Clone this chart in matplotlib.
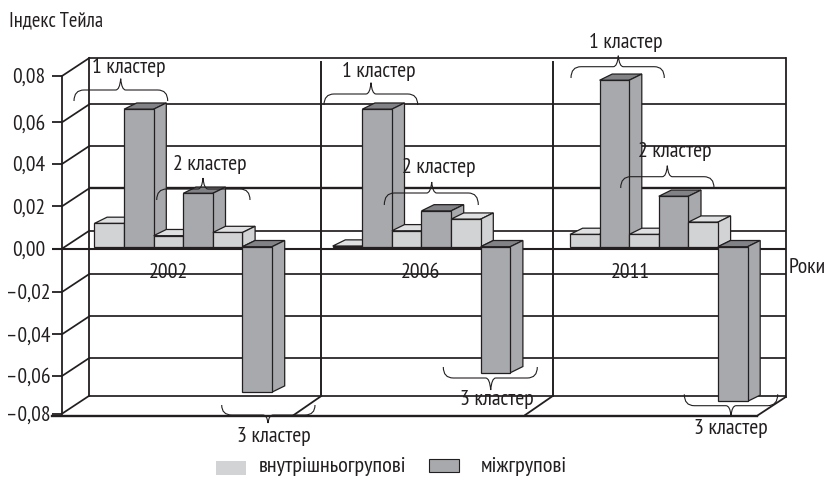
import numpy as np
import matplotlib
matplotlib.use("Agg")
import matplotlib.pyplot as plt
from matplotlib.patches import Polygon, PathPatch, Rectangle
from matplotlib.path import Path
from matplotlib.transforms import Affine2D, IdentityTransform

plt.rcParams['font.family'] = ['PT Sans Narrow', 'Roboto Condensed', 'Liberation Sans', 'DejaVu Sans']

# values
years = ["2002", "2006", "2011"]
within_group = [[0.0110, 0.0052, 0.0067],
                [0.0003, 0.0075, 0.0130],
                [0.0058, 0.0058, 0.0116]]
between_group = [[0.0648, 0.0252, -0.0696],
                 [0.0648, 0.0169, -0.0594],
                 [0.0773, 0.0238, -0.0745]]
tick_values = [0.08, 0.06, 0.04, 0.02, 0.0, -0.02, -0.04, -0.06, -0.08]
tick_labels = ["0,08", "0,06", "0,04", "0,02", "0,00", "–0,02", "–0,04", "–0,06", "–0,08"]
series_names = ["внутрішньогрупові", "міжгрупові"]
cluster_names = ["1 кластер", "2 кластер", "3 кластер"]

INK = "#231f20"
LIGHT = "#d1d3d4"
LIGHT_TOP = "#dfe0e1"
DARK = "#a7a9ac"
DARK_TOP = "#808285"

W, H = 828, 478
fig = plt.figure(figsize=(W / 100, H / 100), dpi=100)
ax = fig.add_axes([0, 0, 1, 1])

# the drawn axis is not quite even, so the scale follows the printed tick positions
scale_v = np.array([-0.114, -0.08, -0.06, -0.04, -0.02, 0.0, 0.02, 0.04, 0.06, 0.08, 0.113])
scale_px = np.array([478, 413.7, 376, 334.3, 292, 248.7, 206.3, 164, 122.3, 76, 0.0])


def forward(v):
    return np.interp(v, scale_v, -scale_px)


def inverse(p):
    return np.interp(p, -scale_px, scale_v)


ax.set_yscale("function", functions=(forward, inverse))
ax.set_xlim(0, W)
ax.set_ylim(-0.114, 0.113)
ax.axis("off")

# pixel coordinates for notes and braces
px = Affine2D().scale(1, -1).translate(0, H)

LEFT, RIGHT = 62, 785.7
BACK_X, BACK_Y = 27.3, 18
back = ax.transData + Affine2D().translate(0, BACK_Y)

# walls
for v in tick_values:
    ax.plot([LEFT - 10, LEFT], [v, v], color=INK, lw=1.3, zorder=1, solid_capstyle="butt")
    ax.plot([LEFT + BACK_X, RIGHT], [v, v], color=INK, lw=1.7 if v == 0.02 else 1.25,
            transform=back, zorder=1, solid_capstyle="butt")
    y0 = ax.transData.transform((0, v))[1]
    ax.plot([LEFT, LEFT + BACK_X], [H - y0, H - y0 - BACK_Y], color=INK, lw=1.25,
            transform=px, zorder=1)
ax.plot([LEFT, LEFT], [-0.08, 0.08], color=INK, lw=1.3, zorder=1)
ax.plot([LEFT - 10, RIGHT], [0, 0], color=INK, lw=1.5, zorder=1, solid_capstyle="butt")
ax.plot([52, 756.7], [415.5, 415.5], color=INK, lw=1.7, transform=px, zorder=1)
ax.plot([89.3, 89.3], [58, 396], color=INK, lw=1.3, transform=px, zorder=1)
for x in [321.3, 552.7]:
    ax.plot([x, x], [62, 396], color=INK, lw=1.4, transform=px, zorder=1)
    ax.plot([x - 27.5, x], [415, 396], color=INK, lw=1.3, transform=px, zorder=1)
ax.plot([RIGHT, RIGHT], [58, 397], color=INK, lw=1.3, transform=px, zorder=1)
ax.plot([758.3, RIGHT], [415, 397], color=INK, lw=1.3, transform=px, zorder=1)

# bars, painted left to right so each one covers the side of the one before
BAR_W = 29.6
DX, DY = 12.6, 6.2
LIFT = 2.0
group_x = [94.5, 332.7, 570.0]
face_tf = ax.transData + Affine2D().translate(0, LIFT)


def screen(x, v, dx=0.0, dy=0.0):
    p = ax.transData.transform((x, v))
    return (p[0] + dx, p[1] + LIFT + dy)


def draw_bar(x, v, face, top):
    high = max(v, 0)
    low = min(v, 0)
    top_pts = [screen(x, high), screen(x + BAR_W, high),
               screen(x + BAR_W, high, DX, DY), screen(x, high, DX, DY)]
    side_pts = [screen(x + BAR_W, low), screen(x + BAR_W, high),
                screen(x + BAR_W, high, DX, DY), screen(x + BAR_W, low, DX, DY)]
    for pts, col in [(top_pts, top), (side_pts, face)]:
        ax.add_patch(Polygon(pts, closed=True, facecolor=col, edgecolor=INK, lw=0.9,
                             transform=IdentityTransform(), zorder=2))
    ax.bar(x, v, BAR_W, align="edge", color=face, edgecolor=INK, lw=0.9,
           transform=face_tf, zorder=2)


for g, start in enumerate(group_x):
    for c in range(3):
        draw_bar(start + 2 * c * BAR_W, within_group[g][c], LIGHT, LIGHT_TOP)
        draw_bar(start + (2 * c + 1) * BAR_W, between_group[g][c], DARK, DARK_TOP)


def brace(x0, x1, xc, y_end, y_flat, y_tip):
    r = 10
    r2 = 5
    verts = [(x0, y_end), (x0, y_flat), (x0 + r, y_flat),
             (xc - r2, y_flat),
             (xc - 1, y_flat), (xc, y_tip),
             (xc + 1, y_flat), (xc + r2, y_flat),
             (x1 - r, y_flat),
             (x1, y_flat), (x1, y_end)]
    codes = [Path.MOVETO, Path.CURVE3, Path.CURVE3, Path.LINETO,
             Path.CURVE3, Path.CURVE3, Path.CURVE3, Path.CURVE3,
             Path.LINETO, Path.CURVE3, Path.CURVE3]
    ax.add_patch(PathPatch(Path(verts, codes), facecolor="none", edgecolor=INK, lw=0.8,
                           transform=px, zorder=3))


brace(74, 167.7, 120.7, 101, 90, 78.7)
brace(156.7, 250, 203, 200, 189, 178)
brace(221.7, 315, 268, 405, 415, 423)
brace(324, 417.7, 371, 105, 94, 82.7)
brace(384.3, 478.3, 431.7, 205, 193, 182)
brace(443.3, 537.3, 490.7, 367, 378, 390)
brace(571, 664.3, 618.3, 78, 66.7, 55.7)
brace(620.7, 714, 667.3, 188, 176.7, 165.7)
brace(684.3, 777.7, 731, 394.3, 405.7, 415.7)

FS = 15.7


def note(x, y, s, ha="center", size=FS):
    ax.text(x, y, s, transform=px, ha=ha, va="baseline", fontsize=size, color=INK, zorder=4)


for v, lab in zip(tick_values, tick_labels):
    y = forward(v) * -1
    note(51 if v < 0 else 45, y + 7, lab, ha="right", size=15.5)

note(9.3, 26, "Індекс Тейла", ha="left", size=14.9)
note(789, 273, "Роки", ha="left")
for yr, x in zip(years, [168, 420, 630]):
    note(x, 277.7, yr)

note(129, 73, cluster_names[0])
note(210, 170, cluster_names[1])
note(274, 441.7, cluster_names[2])
note(379, 77, cluster_names[0])
note(438.5, 173, cluster_names[1])
note(496.5, 405, cluster_names[2])
note(626, 48, cluster_names[0])
note(674.5, 156.7, cluster_names[1])
note(731, 434, cluster_names[2])

# legend
ax.add_patch(Rectangle((216, 461), 30, 14, facecolor=LIGHT, edgecolor="none", transform=px, zorder=3))
ax.add_patch(Rectangle((429, 459), 29.7, 13, facecolor=DARK, edgecolor=INK, lw=0.8, transform=px, zorder=3))
note(259, 471.7, series_names[0], ha="left", size=16)
note(481, 471.7, series_names[1], ha="left", size=16)

fig.savefig("out.png", dpi=100, facecolor="white")
